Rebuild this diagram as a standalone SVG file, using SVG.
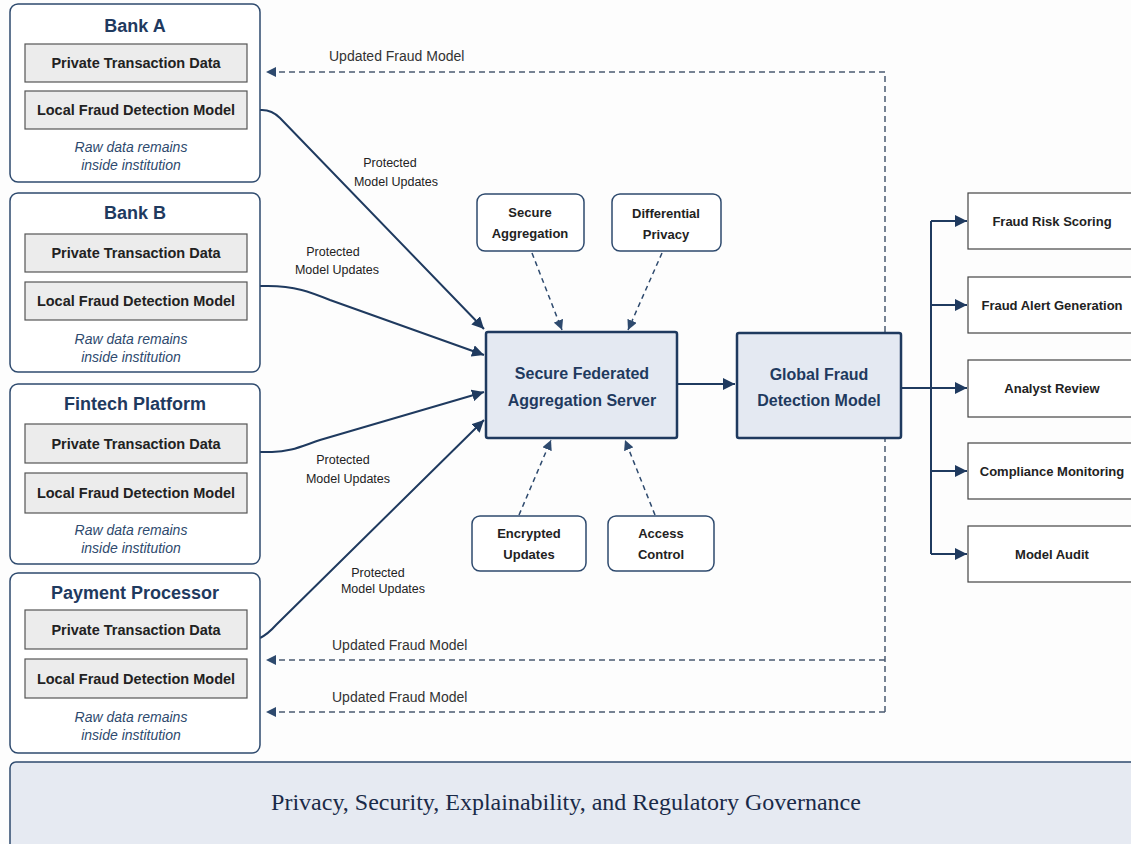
<svg xmlns="http://www.w3.org/2000/svg" width="1131" height="844" viewBox="0 0 1131 844">
<defs>
<marker id="ah" viewBox="0 0 10 10" refX="10" refY="5" markerWidth="12" markerHeight="12" markerUnits="userSpaceOnUse" orient="auto"><path d="M0,0 L10,5 L0,10 z" fill="#1f3a5f"/></marker>
<marker id="ahs" viewBox="0 0 10 10" refX="10" refY="5" markerWidth="10" markerHeight="10" markerUnits="userSpaceOnUse" orient="auto"><path d="M0,0 L10,5 L0,10 z" fill="#2e4a6e"/></marker>
<style>
.outer{fill:#fff;stroke:#2e4a6e;stroke-width:1.5}
.inner{fill:#ececec;stroke:#555;stroke-width:1.2}
.small{fill:#fff;stroke:#2e4a6e;stroke-width:1.5}
.core{fill:#e4e9f2;stroke:#1f3a5f;stroke-width:2.5}
.out{fill:#fff;stroke:#444;stroke-width:1.2}
.title{font-family:"Liberation Sans",Arial,sans-serif;font-weight:bold;font-size:18px;fill:#1f3a5f;text-anchor:middle}
.it{font-family:"Liberation Sans",Arial,sans-serif;font-style:italic;font-size:14px;fill:#2e4a6e;text-anchor:middle}
.bx{font-family:"Liberation Sans",Arial,sans-serif;font-weight:bold;font-size:14.5px;fill:#222;text-anchor:middle}
.sm{font-family:"Liberation Sans",Arial,sans-serif;font-weight:bold;font-size:13px;fill:#222;text-anchor:middle}
.core-t{font-family:"Liberation Sans",Arial,sans-serif;font-weight:bold;font-size:16px;fill:#1f3a5f;text-anchor:middle}
.lbl{font-family:"Liberation Sans",Arial,sans-serif;font-size:12.5px;fill:#222;text-anchor:middle}
.upd{font-family:"Liberation Sans",Arial,sans-serif;font-size:14px;fill:#333}
.solid{fill:none;stroke:#1f3a5f;stroke-width:2}
.thin{fill:none;stroke:#1f3a5f;stroke-width:1.5}
.dash{fill:none;stroke:#4a5a70;stroke-width:1.5;stroke-dasharray:6 4}
.dsm{fill:none;stroke:#2e4a6e;stroke-width:1.5;stroke-dasharray:5 4}
.gov{font-family:"Liberation Serif","Times New Roman",serif;font-size:24px;fill:#1a2a48;text-anchor:middle}
</style>
</defs>
<rect width="1131" height="844" fill="#fdfdfd"/>

<g id="connectors">
  <path class="dash" d="M885,712 V72 H266" marker-end="url(#ahs)"/>
  <path class="dash" d="M885,660 H266" marker-end="url(#ahs)"/>
  <path class="dash" d="M885,712 H266" marker-end="url(#ahs)"/>
  <path class="solid" d="M247,110 H262 Q272,110 280,118 L484,329" marker-end="url(#ah)"/>
  <path class="solid" d="M247,286 H268 C295,286 310,292 330,300 L484,355" marker-end="url(#ah)"/>
  <path class="solid" d="M260,452 H272 C290,452 302,446 320,440 L484,392" marker-end="url(#ah)"/>
  <path class="solid" d="M260,638 Q268,634 276,625 L484,420" marker-end="url(#ah)"/>
  <path class="thin" d="M247,493 H260"/>
  <path class="thin" d="M247,678 H260"/>
  <path class="dsm" d="M532,253 L562,330" marker-end="url(#ahs)"/>
  <path class="dsm" d="M662,253 L628,330" marker-end="url(#ahs)"/>
  <path class="dsm" d="M519,515 L551,440" marker-end="url(#ahs)"/>
  <path class="dsm" d="M655,515 L625,440" marker-end="url(#ahs)"/>
  <path class="solid" d="M677,384 H735" marker-end="url(#ah)"/>
  <path class="solid" d="M901,388 H931 M931,221 V554"/>
  <path class="solid" d="M931,221 H967" marker-end="url(#ah)"/>
  <path class="solid" d="M931,305 H967" marker-end="url(#ah)"/>
  <path class="solid" d="M931,388 H967" marker-end="url(#ah)"/>
  <path class="solid" d="M931,471 H967" marker-end="url(#ah)"/>
  <path class="solid" d="M931,554 H967" marker-end="url(#ah)"/>
  <text class="upd" x="329" y="61">Updated Fraud Model</text>
  <text class="upd" x="332" y="650">Updated Fraud Model</text>
  <text class="upd" x="332" y="702">Updated Fraud Model</text>
  <text class="lbl" x="390" y="167">Protected</text>
  <text class="lbl" x="396" y="186">Model Updates</text>
  <text class="lbl" x="333" y="256">Protected</text>
  <text class="lbl" x="337" y="274">Model Updates</text>
  <text class="lbl" x="343" y="464">Protected</text>
  <text class="lbl" x="348" y="483">Model Updates</text>
  <text class="lbl" x="378" y="577">Protected</text>
  <text class="lbl" x="383" y="593">Model Updates</text>
</g>

<g id="bank-a">
  <rect class="outer" x="10" y="4" width="250" height="178" rx="8"/>
  <text class="title" x="135" y="32">Bank A</text>
  <rect class="inner" x="25" y="44" width="222" height="38"/>
  <text class="bx" x="136" y="68">Private Transaction Data</text>
  <rect class="inner" x="25" y="91" width="222" height="38"/>
  <text class="bx" x="136" y="115">Local Fraud Detection Model</text>
  <text class="it" x="131" y="152">Raw data remains</text>
  <text class="it" x="131" y="170">inside institution</text>
</g>

<g id="bank-b">
  <rect class="outer" x="10" y="193" width="250" height="179" rx="8"/>
  <text class="title" x="135" y="219">Bank B</text>
  <rect class="inner" x="25" y="234" width="222" height="38"/>
  <text class="bx" x="136" y="258">Private Transaction Data</text>
  <rect class="inner" x="25" y="282" width="222" height="38"/>
  <text class="bx" x="136" y="306">Local Fraud Detection Model</text>
  <text class="it" x="131" y="344">Raw data remains</text>
  <text class="it" x="131" y="362">inside institution</text>
</g>

<g id="fintech">
  <rect class="outer" x="10" y="384" width="250" height="180" rx="8"/>
  <text class="title" x="135" y="410">Fintech Platform</text>
  <rect class="inner" x="25" y="424" width="222" height="39"/>
  <text class="bx" x="136" y="449">Private Transaction Data</text>
  <rect class="inner" x="25" y="473" width="222" height="40"/>
  <text class="bx" x="136" y="498">Local Fraud Detection Model</text>
  <text class="it" x="131" y="535">Raw data remains</text>
  <text class="it" x="131" y="553">inside institution</text>
</g>

<g id="payment">
  <rect class="outer" x="10" y="573" width="250" height="180" rx="8"/>
  <text class="title" x="135" y="599">Payment Processor</text>
  <rect class="inner" x="25" y="610" width="222" height="39"/>
  <text class="bx" x="136" y="635">Private Transaction Data</text>
  <rect class="inner" x="25" y="659" width="222" height="39"/>
  <text class="bx" x="136" y="684">Local Fraud Detection Model</text>
  <text class="it" x="131" y="722">Raw data remains</text>
  <text class="it" x="131" y="740">inside institution</text>
</g>

<g id="secure-aggregation">
  <rect class="small" x="477" y="194" width="107" height="57" rx="8"/>
  <text class="sm" x="530" y="217">Secure</text>
  <text class="sm" x="530" y="238">Aggregation</text>
</g>
<g id="differential-privacy">
  <rect class="small" x="612" y="194" width="109" height="57" rx="8"/>
  <text class="sm" x="666" y="218">Differential</text>
  <text class="sm" x="666" y="239">Privacy</text>
</g>
<g id="encrypted-updates">
  <rect class="small" x="472" y="516" width="114" height="55" rx="8"/>
  <text class="sm" x="529" y="538">Encrypted</text>
  <text class="sm" x="529" y="559">Updates</text>
</g>
<g id="access-control">
  <rect class="small" x="608" y="516" width="106" height="55" rx="8"/>
  <text class="sm" x="661" y="538">Access</text>
  <text class="sm" x="661" y="559">Control</text>
</g>

<g id="server">
  <rect class="core" x="486" y="332" width="191" height="106" rx="2"/>
  <text class="core-t" x="582" y="379">Secure Federated</text>
  <text class="core-t" x="582" y="406">Aggregation Server</text>
</g>
<g id="global-model">
  <rect class="core" x="737" y="333" width="164" height="105" rx="2"/>
  <text class="core-t" x="819" y="380">Global Fraud</text>
  <text class="core-t" x="819" y="406">Detection Model</text>
</g>

<g id="fraud-risk-scoring">
  <rect class="out" x="968" y="193" width="170" height="56"/>
  <text class="sm" x="1052" y="226">Fraud Risk Scoring</text>
</g>
<g id="fraud-alert-generation">
  <rect class="out" x="968" y="277" width="170" height="56"/>
  <text class="sm" x="1052" y="310">Fraud Alert Generation</text>
</g>
<g id="analyst-review">
  <rect class="out" x="968" y="360" width="170" height="57"/>
  <text class="sm" x="1052" y="393">Analyst Review</text>
</g>
<g id="compliance-monitoring">
  <rect class="out" x="968" y="443" width="170" height="56"/>
  <text class="sm" x="1052" y="476">Compliance Monitoring</text>
</g>
<g id="model-audit">
  <rect class="out" x="968" y="526" width="170" height="56"/>
  <text class="sm" x="1052" y="559">Model Audit</text>
</g>

<g id="governance">
  <rect x="10" y="762" width="1135" height="100" rx="6" fill="#e6eaf2" stroke="#2e4a6e" stroke-width="1.5"/>
  <text class="gov" x="566" y="810">Privacy, Security, Explainability, and Regulatory Governance</text>
</g>
</svg>
